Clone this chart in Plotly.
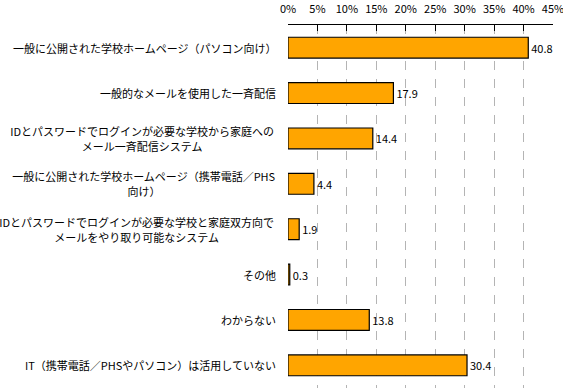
import plotly.graph_objects as go

categories = [
    "一般に公開された学校ホームページ（パソコン向け）",
    "一般的なメールを使用した一斉配信",
    "IDとパスワードでログインが必要な学校から家庭への<br>メール一斉配信システム",
    "一般に公開された学校ホームページ（携帯電話／PHS<br>向け）",
    "IDとパスワードでログインが必要な学校と家庭双方向で<br>メールをやり取り可能なシステム",
    "その他",
    "わからない",
    "IT（携帯電話／PHSやパソコン）は活用していない",
]
values = [40.8, 17.9, 14.4, 4.4, 1.9, 0.3, 13.8, 30.4]
tick_vals = [0, 5, 10, 15, 20, 25, 30, 35, 40, 45]
tick_text = [f"{v}%" for v in tick_vals]

FONT = "Noto Sans CJK JP, Noto Sans, sans-serif"
FS = 11
LINE_GAP = 15


def est_width(s):
    # rough text width estimate: full-width glyphs 1em, latin ~0.6em
    return sum(FS if ord(c) > 0x2E80 else 0.6 * FS for c in s)


fig = go.Figure()
fig.add_trace(go.Bar(
    x=values,
    y=categories,
    orientation="h",
    marker=dict(color="#FFA500", line=dict(color="#000000", width=1.2)),
    width=0.46,
    text=[f"{v:.1f}" for v in values],
    textposition="outside",
    constraintext="none",
    textfont=dict(family=FONT, size=11, color="#000000"),
    cliponaxis=False,
    hoverinfo="skip",
))

for cat in categories:
    lines = cat.split("<br>")
    n = len(lines)
    box_w = max(est_width(l) for l in lines) + 2
    for i, line in enumerate(lines):
        shift = ((n - 1) / 2 - i) * LINE_GAP
        kw = dict(width=box_w) if n > 1 else {}
        fig.add_annotation(
            x=0, xref="paper", y=cat, yref="y",
            text=line, showarrow=False,
            xanchor="right", yanchor="middle", align="center",
            xshift=-10, yshift=shift,
            font=dict(family=FONT, size=FS, color="#000000"),
            **kw,
        )

fig.update_layout(
    width=563, height=389,
    margin=dict(l=288, r=10, t=25, b=1),
    paper_bgcolor="white", plot_bgcolor="white",
    showlegend=False,
    xaxis=dict(
        side="top", range=[0, 45],
        tickvals=tick_vals, ticktext=tick_text,
        ticks="inside", ticklen=6, tickcolor="#000000", tickwidth=1,
        showline=True, linecolor="#000000", linewidth=1,
        showgrid=True, gridcolor="#b4b4b4", griddash="dash", gridwidth=1,
        zeroline=False, automargin=False,
        ticklabelstandoff=7, ticklabeloverflow="allow",
        tickfont=dict(family=FONT, size=11, color="#000000"),
    ),
    yaxis=dict(
        autorange="reversed",
        showticklabels=False, showgrid=False, zeroline=False, showline=False,
    ),
)

fig.write_html(
    "out.html",
    config={"displayModeBar": False, "staticPlot": True},
    post_script="document.body.style.margin='0';",
)
